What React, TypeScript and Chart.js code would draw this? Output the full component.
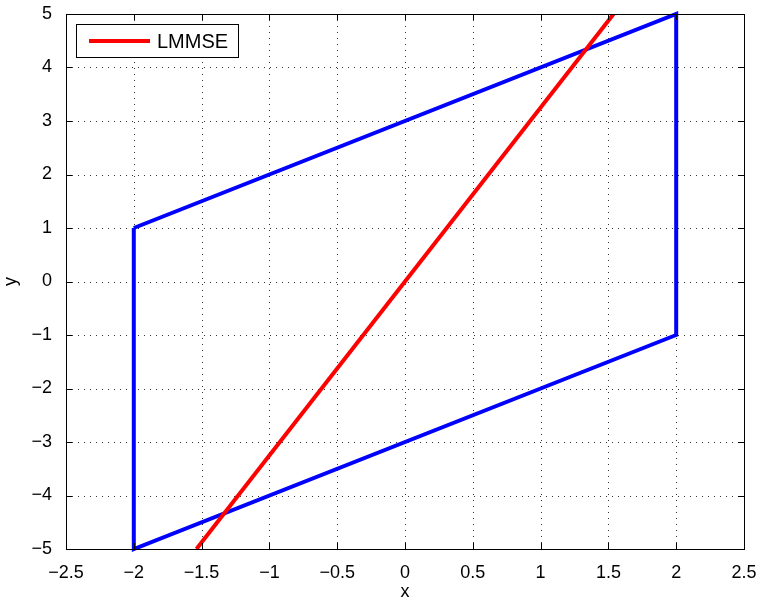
import React, { useEffect, useRef } from "react";
import { Chart, registerables } from "chart.js";

Chart.register(...registerables);

const boxX = [-2, 2, 2, -2, -2];
const boxY = [1, 5, -1, -5, 1];
const lmmseX = [-1.538, 1.538];
const lmmseY = [-5, 5];
const xTickValues = [-2.5, -2, -1.5, -1, -0.5, 0, 0.5, 1, 1.5, 2, 2.5];
const yTickValues = [-5, -4, -3, -2, -1, 0, 1, 2, 3, 4, 5];
const legendLabel = "LMMSE";

const FONT = "'Liberation Sans', Arial, Helvetica, sans-serif";
const fmt = (v: number) => (v < 0 ? "\u2212" + String(Math.abs(v)) : String(v));

const framePlugin = {
  id: "matlabFrame",
  beforeDatasetsDraw(chart: any) {
    const { ctx, chartArea: a, scales } = chart;
    ctx.save();
    ctx.strokeStyle = "#333";
    ctx.lineWidth = 1;
    ctx.setLineDash([1, 5]);
    for (const v of xTickValues) {
      const px = Math.round(scales.x.getPixelForValue(v)) + 0.5;
      ctx.beginPath();
      ctx.moveTo(px, a.top);
      ctx.lineTo(px, a.bottom);
      ctx.stroke();
    }
    for (const v of yTickValues) {
      const py = Math.round(scales.y.getPixelForValue(v)) + 0.5;
      ctx.beginPath();
      ctx.moveTo(a.left, py);
      ctx.lineTo(a.right, py);
      ctx.stroke();
    }
    ctx.restore();
  },
  afterDatasetsDraw(chart: any) {
    const { ctx, chartArea: a, scales } = chart;
    ctx.save();
    ctx.strokeStyle = "#000";
    ctx.lineWidth = 1;
    ctx.setLineDash([]);
    const tl = 6;
    for (const v of xTickValues) {
      const px = Math.round(scales.x.getPixelForValue(v)) + 0.5;
      ctx.beginPath();
      ctx.moveTo(px, a.top);
      ctx.lineTo(px, a.top + tl);
      ctx.moveTo(px, a.bottom);
      ctx.lineTo(px, a.bottom - tl);
      ctx.stroke();
    }
    for (const v of yTickValues) {
      const py = Math.round(scales.y.getPixelForValue(v)) + 0.5;
      ctx.beginPath();
      ctx.moveTo(a.left, py);
      ctx.lineTo(a.left + tl, py);
      ctx.moveTo(a.right, py);
      ctx.lineTo(a.right - tl, py);
      ctx.stroke();
    }
    ctx.strokeRect(Math.round(a.left) + 0.5, Math.round(a.top) + 0.5, Math.round(a.right - a.left), Math.round(a.bottom - a.top));

    // legend
    const lx = a.left + 10;
    const ly = a.top + 10;
    const lw = 162;
    const lh = 33;
    ctx.fillStyle = "#fff";
    ctx.fillRect(lx, ly, lw, lh);
    ctx.strokeRect(lx + 0.5, ly + 0.5, lw, lh);
    ctx.strokeStyle = "#ff0000";
    ctx.lineWidth = 4;
    ctx.beginPath();
    ctx.moveTo(lx + 13, ly + 17);
    ctx.lineTo(lx + 74, ly + 17);
    ctx.stroke();
    ctx.fillStyle = "#000";
    ctx.font = `20px ${FONT}`;
    ctx.textBaseline = "middle";
    ctx.textAlign = "left";
    ctx.fillText(legendLabel, lx + 81, ly + 18);
    ctx.restore();
  },
};

export default function App() {
  const ref = useRef<HTMLCanvasElement | null>(null);
  useEffect(() => {
    document.body.style.margin = "0";
    const chart = new Chart(ref.current as HTMLCanvasElement, {
      type: "scatter",
      data: {
        datasets: [
          {
            label: "box",
            data: boxX.map((x, i) => ({ x, y: boxY[i] })),
            showLine: true,
            borderColor: "#0000ff",
            borderWidth: 4,
            pointRadius: 0,
            fill: false,
            tension: 0,
            clip: 3,
            order: 2,
          } as any,
          {
            label: legendLabel,
            data: lmmseX.map((x, i) => ({ x, y: lmmseY[i] })),
            showLine: true,
            borderColor: "#ff0000",
            borderWidth: 4,
            pointRadius: 0,
            fill: false,
            tension: 0,
            order: 1,
          } as any,
        ],
      },
      options: {
        animation: false,
        responsive: false,
        maintainAspectRatio: false,
        layout: { padding: { top: 14, right: 15, left: 0, bottom: 0 } },
        plugins: { legend: { display: false }, tooltip: { enabled: false } },
        scales: {
          x: {
            type: "linear",
            min: -2.5,
            max: 2.5,
            afterBuildTicks: (s: any) => {
              s.ticks = xTickValues.map((v) => ({ value: v }));
            },
            afterFit: (s: any) => {
              s.height = 54;
              s.paddingRight = 0;
              s.paddingLeft = 0;
            },
            ticks: {
              color: "#000",
              font: { size: 18, family: FONT },
              padding: 5,
              maxRotation: 0,
              autoSkip: false,
              callback: (v: any) => fmt(Number(v)),
            },
            grid: { display: false },
            border: { display: false },
            title: {
              display: true,
              text: "x",
              color: "#000",
              font: { size: 18, family: FONT },
              padding: { top: 0, bottom: 0 },
            },
          },
          y: {
            type: "linear",
            min: -5,
            max: 5,
            afterBuildTicks: (s: any) => {
              s.ticks = yTickValues.map((v) => ({ value: v }));
            },
            afterFit: (s: any) => {
              s.width = 66;
              s.paddingTop = 0;
              s.paddingBottom = 0;
            },
            ticks: {
              color: "#000",
              font: { size: 18, family: FONT },
              padding: 6,
              autoSkip: false,
              callback: (v: any) => fmt(Number(v)),
            },
            grid: { display: false },
            border: { display: false },
            title: {
              display: true,
              text: "y",
              color: "#000",
              font: { size: 18, family: FONT },
              padding: { top: 0, bottom: 4 },
            },
          },
        },
      },
      plugins: [framePlugin],
    });
    return () => chart.destroy();
  }, []);
  return (
    <div style={{ width: 759, height: 603, background: "#fff" }}>
      <canvas ref={ref} width={759} height={603} style={{ display: "block" }} />
    </div>
  );
}
